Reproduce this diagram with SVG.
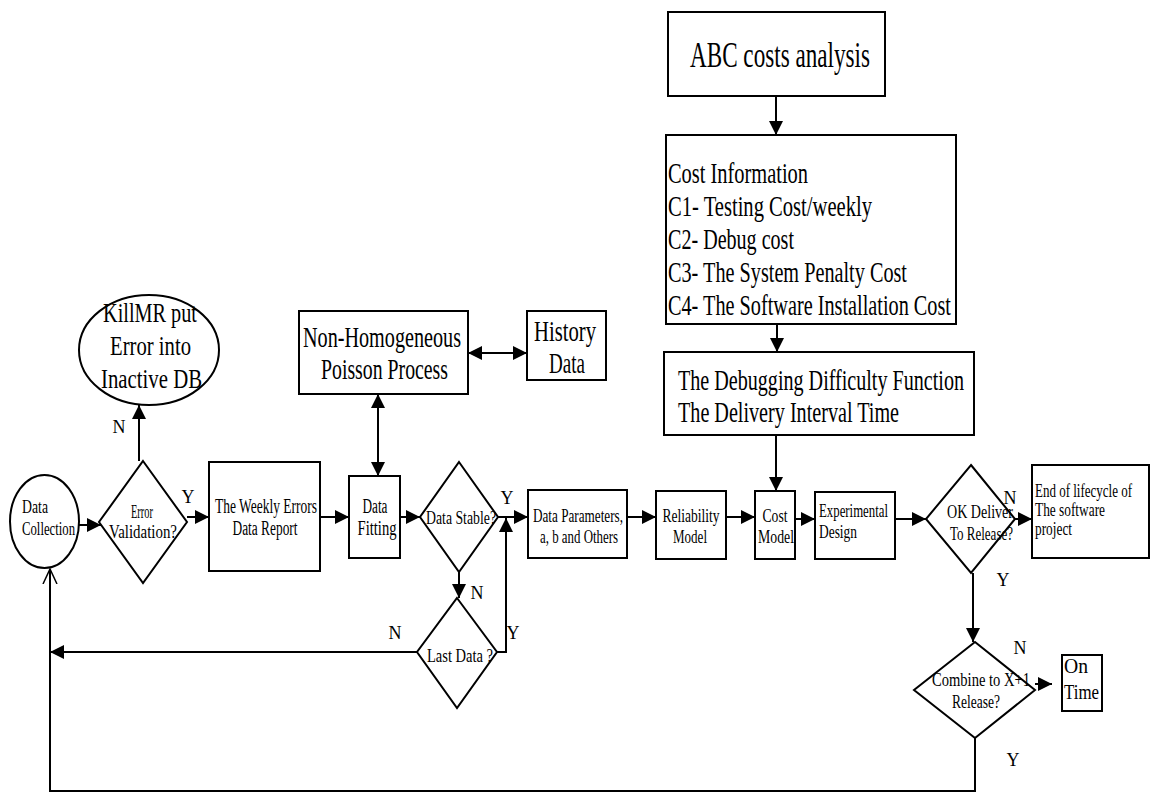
<svg xmlns="http://www.w3.org/2000/svg" width="1151" height="795" viewBox="0 0 1151 795">
  <style>
    .box { fill: #fff; stroke: #000; stroke-width: 2; }
    .wire { fill: none; stroke: #000; stroke-width: 2; }
    text { font-family: "Liberation Serif", "Times New Roman", serif; fill: #000; }
    .t18 { font-size: 18px; }
    .t20 { font-size: 20px; }
    .t22 { font-size: 22px; }
    .t27 { font-size: 27px; }
    .t29 { font-size: 29px; }
    .t30 { font-size: 30px; }
    .t36 { font-size: 36px; }
    .lbl { font-size: 18px; text-anchor: middle; }
    .mid { text-anchor: middle; }
  </style>
  <defs>
    <marker id="head" viewBox="0 0 14 14" refX="14" refY="7" markerWidth="14" markerHeight="14" markerUnits="userSpaceOnUse" orient="auto-start-reverse">
      <path d="M0,0 L14,7 L0,14 z" fill="#000"/>
    </marker>
    <marker id="open" viewBox="0 0 16 16" refX="15" refY="8" markerWidth="16" markerHeight="16" markerUnits="userSpaceOnUse" orient="auto">
      <path d="M0,1 L15,8 L0,15" fill="none" stroke="#000" stroke-width="1.5"/>
    </marker>
  </defs>

  <!-- connectors -->
  <g id="connectors">
    <line class="wire" x1="776" y1="97" x2="776" y2="135" marker-end="url(#head)"/>
    <line class="wire" x1="777" y1="324" x2="777" y2="352" marker-end="url(#head)"/>
    <line class="wire" x1="776" y1="435" x2="776" y2="491" marker-end="url(#head)"/>
    <line class="wire" x1="79" y1="525" x2="101" y2="525" marker-end="url(#head)"/>
    <line class="wire" x1="139" y1="461" x2="139" y2="405" marker-end="url(#head)"/>
    <line class="wire" x1="187" y1="517" x2="209" y2="517" marker-end="url(#head)"/>
    <line class="wire" x1="320" y1="517" x2="349" y2="517" marker-end="url(#head)"/>
    <line class="wire" x1="378" y1="394" x2="378" y2="476" marker-start="url(#head)" marker-end="url(#head)"/>
    <line class="wire" x1="468" y1="353" x2="527" y2="353" marker-start="url(#head)" marker-end="url(#head)"/>
    <line class="wire" x1="400" y1="517" x2="420" y2="517" marker-end="url(#head)"/>
    <line class="wire" x1="498" y1="517" x2="528" y2="517" marker-end="url(#head)"/>
    <line class="wire" x1="459" y1="572" x2="459" y2="598" marker-end="url(#head)"/>
    <polyline class="wire" points="497,652 506,652 506,518" marker-end="url(#head)"/>
    <line class="wire" x1="417" y1="652" x2="50" y2="652" marker-end="url(#head)"/>
    <line class="wire" x1="627" y1="517" x2="656" y2="517" marker-end="url(#head)"/>
    <line class="wire" x1="726" y1="517" x2="755" y2="517" marker-end="url(#head)"/>
    <line class="wire" x1="795" y1="519" x2="815" y2="519" marker-end="url(#head)"/>
    <line class="wire" x1="895" y1="519" x2="926" y2="519" marker-end="url(#head)"/>
    <line class="wire" x1="1015" y1="519" x2="1032" y2="519" marker-end="url(#head)"/>
    <line class="wire" x1="973" y1="573" x2="973" y2="642" marker-end="url(#head)"/>
    <line class="wire" x1="1035" y1="684" x2="1052" y2="684" marker-end="url(#head)"/>
    <polyline class="wire" points="975,738 975,791 50,791 50,569" marker-end="url(#open)"/>

    <!-- branch labels -->
    <text class="lbl" x="119" y="433">N</text>
    <text class="lbl" x="188" y="503">Y</text>
    <text class="lbl" x="507" y="504">Y</text>
    <text class="lbl" x="477" y="599">N</text>
    <text class="lbl" x="395" y="639">N</text>
    <text class="lbl" x="513" y="639">Y</text>
    <text class="lbl" x="1010" y="504">N</text>
    <text class="lbl" x="1003" y="586">Y</text>
    <text class="lbl" x="1020" y="654">N</text>
    <text class="lbl" x="1013" y="766">Y</text>
  </g>

  <g id="abc-costs">
    <rect class="box" x="668" y="12" width="217" height="84"/>
    <text class="t36" x="690" y="67" textLength="180" lengthAdjust="spacingAndGlyphs">ABC costs analysis</text>
  </g>

  <g id="cost-information">
    <rect class="box" x="666" y="135" width="290" height="189"/>
    <text class="t29" x="668" y="183" textLength="140" lengthAdjust="spacingAndGlyphs">Cost Information</text>
    <text class="t29" x="668" y="216" textLength="204" lengthAdjust="spacingAndGlyphs">C1- Testing Cost/weekly</text>
    <text class="t29" x="668" y="249" textLength="126" lengthAdjust="spacingAndGlyphs">C2- Debug cost</text>
    <text class="t29" x="668" y="282" textLength="239" lengthAdjust="spacingAndGlyphs">C3- The System Penalty Cost</text>
    <text class="t29" x="668" y="315" textLength="283" lengthAdjust="spacingAndGlyphs">C4- The Software Installation Cost</text>
  </g>

  <g id="debugging">
    <rect class="box" x="664" y="352" width="310" height="83"/>
    <text class="t30" x="678" y="390" textLength="286" lengthAdjust="spacingAndGlyphs">The Debugging Difficulty Function</text>
    <text class="t30" x="678" y="422" textLength="221" lengthAdjust="spacingAndGlyphs">The Delivery Interval Time</text>
  </g>

  <g id="kill-mr">
    <ellipse class="box" cx="149" cy="350" rx="70" ry="55"/>
    <text class="t27" x="103" y="322" textLength="94" lengthAdjust="spacingAndGlyphs">KillMR put</text>
    <text class="t27" x="110" y="355" textLength="81" lengthAdjust="spacingAndGlyphs">Error into</text>
    <text class="t27" x="101" y="388" textLength="101" lengthAdjust="spacingAndGlyphs">Inactive DB</text>
  </g>

  <g id="nhpp">
    <rect class="box" x="299" y="311" width="169" height="83"/>
    <text class="t30" x="303" y="347" textLength="158" lengthAdjust="spacingAndGlyphs">Non-Homogeneous</text>
    <text class="t30" x="321" y="379" textLength="127" lengthAdjust="spacingAndGlyphs">Poisson Process</text>
  </g>

  <g id="history-data">
    <rect class="box" x="527" y="311" width="79" height="69"/>
    <text class="t29" x="534" y="341" textLength="62" lengthAdjust="spacingAndGlyphs">History</text>
    <text class="t29" x="549" y="373" textLength="36" lengthAdjust="spacingAndGlyphs">Data</text>
  </g>

  <g id="data-collection">
    <ellipse class="box" cx="44.5" cy="521.5" rx="34.5" ry="46.5"/>
    <text class="t18" x="22" y="513" textLength="26" lengthAdjust="spacingAndGlyphs">Data</text>
    <text class="t18" x="22" y="535" textLength="53" lengthAdjust="spacingAndGlyphs">Collection</text>
  </g>

  <g id="error-validation">
    <polygon class="box" points="143,461 187,522 143,583 99,522"/>
    <text class="t18 mid" x="142" y="518" textLength="22" lengthAdjust="spacingAndGlyphs">Error</text>
    <text class="t18 mid" x="143" y="538" textLength="68" lengthAdjust="spacingAndGlyphs">Validation?</text>
  </g>

  <g id="weekly-report">
    <rect class="box" x="209" y="462" width="111" height="109"/>
    <text class="t20 mid" x="266" y="513" textLength="102" lengthAdjust="spacingAndGlyphs">The Weekly Errors</text>
    <text class="t20 mid" x="265" y="535" textLength="65" lengthAdjust="spacingAndGlyphs">Data Report</text>
  </g>

  <g id="data-fitting">
    <rect class="box" x="349" y="476" width="51" height="82"/>
    <text class="t20 mid" x="375" y="513" textLength="25" lengthAdjust="spacingAndGlyphs">Data</text>
    <text class="t20 mid" x="377" y="535" textLength="39" lengthAdjust="spacingAndGlyphs">Fitting</text>
  </g>

  <g id="data-stable">
    <polygon class="box" points="459,462 498,517 459,572 420,517"/>
    <text class="t18 mid" x="461" y="524" textLength="70" lengthAdjust="spacingAndGlyphs">Data Stable?</text>
  </g>

  <g id="last-data">
    <polygon class="box" points="457,598 497,652 457,708 417,652"/>
    <text class="t18 mid" x="460" y="662" textLength="66" lengthAdjust="spacingAndGlyphs">Last Data ?</text>
  </g>

  <g id="data-parameters">
    <rect class="box" x="528" y="490" width="99" height="68"/>
    <text class="t18 mid" x="578" y="522" textLength="90" lengthAdjust="spacingAndGlyphs">Data Parameters,</text>
    <text class="t18 mid" x="579" y="543" textLength="78" lengthAdjust="spacingAndGlyphs">a, b and Others</text>
  </g>

  <g id="reliability-model">
    <rect class="box" x="656" y="491" width="70" height="68"/>
    <text class="t18 mid" x="691" y="522" textLength="57" lengthAdjust="spacingAndGlyphs">Reliability</text>
    <text class="t18 mid" x="690" y="543" textLength="34" lengthAdjust="spacingAndGlyphs">Model</text>
  </g>

  <g id="cost-model">
    <rect class="box" x="755" y="491" width="40" height="68"/>
    <text class="t18 mid" x="775" y="522" textLength="25" lengthAdjust="spacingAndGlyphs">Cost</text>
    <text class="t18 mid" x="776" y="543" textLength="36" lengthAdjust="spacingAndGlyphs">Model</text>
  </g>

  <g id="experimental-design">
    <rect class="box" x="815" y="492" width="80" height="67"/>
    <text class="t18" x="819" y="517" textLength="69" lengthAdjust="spacingAndGlyphs">Experimental</text>
    <text class="t18" x="819" y="538" textLength="38" lengthAdjust="spacingAndGlyphs">Design</text>
  </g>

  <g id="ok-deliver">
    <polygon class="box" points="971,465 1015,519 971,573 926,519"/>
    <text class="t18" x="947" y="518" textLength="66" lengthAdjust="spacingAndGlyphs">OK Deliver</text>
    <text class="t18" x="950" y="540" textLength="63" lengthAdjust="spacingAndGlyphs">To Release?</text>
  </g>

  <g id="end-of-lifecycle">
    <rect class="box" x="1032" y="465" width="117" height="93"/>
    <text class="t18" x="1035" y="497" textLength="97" lengthAdjust="spacingAndGlyphs">End of lifecycle of</text>
    <text class="t18" x="1035" y="516" textLength="70" lengthAdjust="spacingAndGlyphs">The software</text>
    <text class="t18" x="1035" y="535" textLength="37" lengthAdjust="spacingAndGlyphs">project</text>
  </g>

  <g id="combine-release">
    <polygon class="box" points="975,642 1035,690 975,738 914,690"/>
    <text class="t18" x="932" y="686" textLength="98" lengthAdjust="spacingAndGlyphs">Combine to X+1</text>
    <text class="t18" x="952" y="708" textLength="48" lengthAdjust="spacingAndGlyphs">Release?</text>
  </g>

  <g id="on-time">
    <rect class="box" x="1062" y="655" width="40" height="56"/>
    <text class="t22" x="1064" y="673" textLength="24" lengthAdjust="spacingAndGlyphs">On</text>
    <text class="t22" x="1064" y="699" textLength="35" lengthAdjust="spacingAndGlyphs">Time</text>
  </g>
</svg>
